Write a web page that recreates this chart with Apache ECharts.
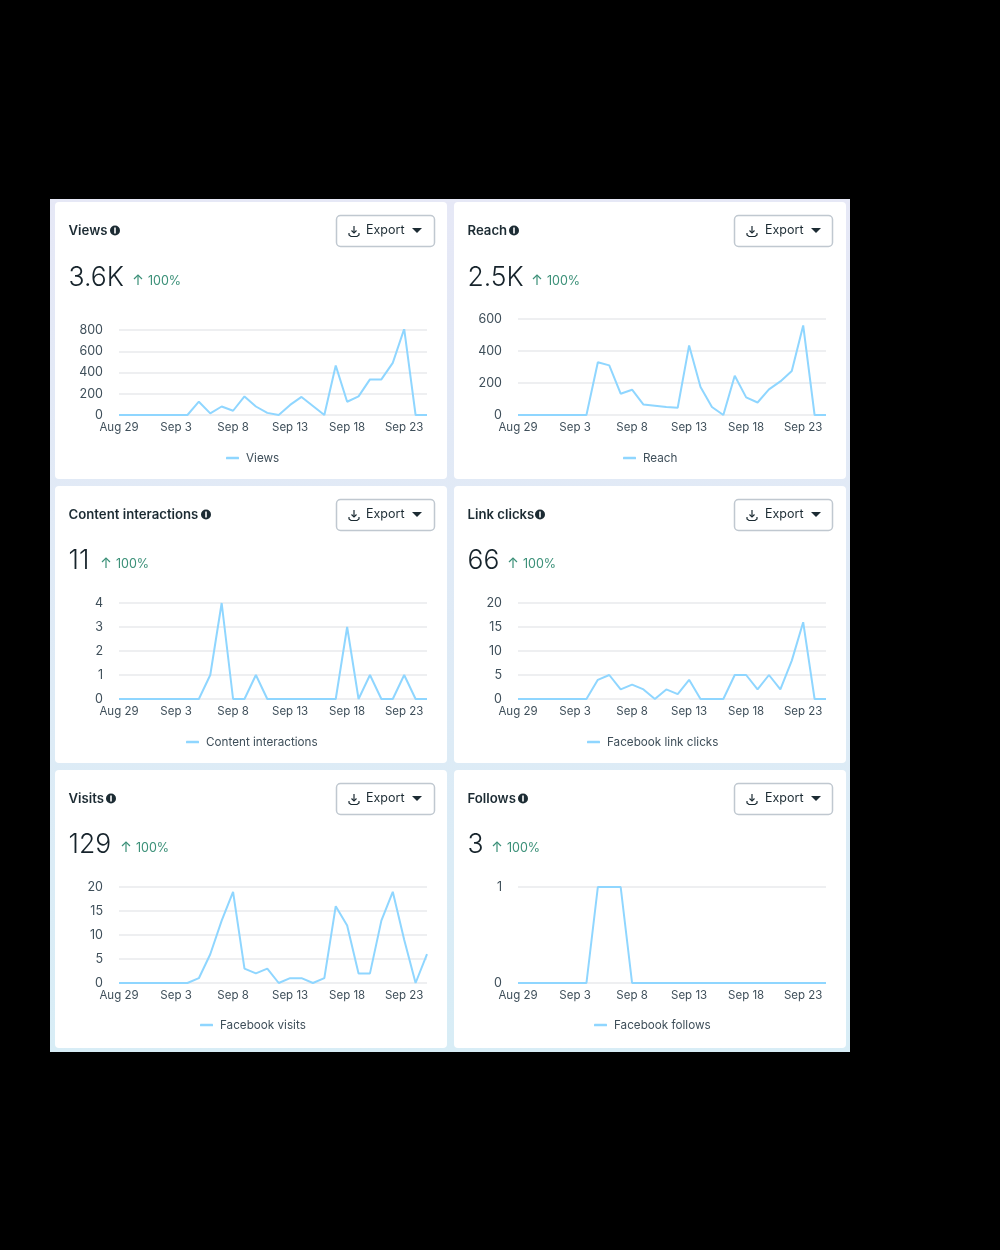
<!DOCTYPE html>
<html>
<head>
<meta charset="utf-8">
<style>
  html, body { margin: 0; padding: 0; background: #000; }
  #chart { width: 1000px; height: 1250px; }
</style>
<script src="https://cdn.jsdelivr.net/npm/echarts@6/dist/echarts.min.js"></script>
</head>
<body>
<div id="chart"></div>
<script>
const dates = ['Aug 29','Aug 30','Aug 31','Sep 1','Sep 2','Sep 3','Sep 4','Sep 5','Sep 6','Sep 7','Sep 8','Sep 9','Sep 10','Sep 11','Sep 12','Sep 13','Sep 14','Sep 15','Sep 16','Sep 17','Sep 18','Sep 19','Sep 20','Sep 21','Sep 22','Sep 23','Sep 24','Sep 25'];
const views = [0,0,0,0,0,0,0,125,15,80,40,175,80,20,0,95,170,85,0,465,125,175,335,335,490,810,0,0];
const reach = [0,0,0,0,0,0,0,330,310,133,158,65,58,50,45,435,175,50,0,245,110,78,160,210,275,560,0,0];
const interactions = [0,0,0,0,0,0,0,0,1,4,0,0,1,0,0,0,0,0,0,0,3,0,1,0,0,1,0,0];
const linkClicks = [0,0,0,0,0,0,0,4,5,2,3,2,0,2,1,4,0,0,0,5,5,2,5,2,8,16,0,0];
const visits = [0,0,0,0,0,0,0,1,6,13,19,3,2,3,0,1,1,0,1,16,12,2,2,13,19,9,0,6];
const follows = [0,0,0,0,0,0,0,1,1,1,0,0,0,0,0,0,0,0,0,0,0,0,0,0,0,0,0,0];

const titles = ['Views','Reach','Content interactions','Link clicks','Visits','Follows'];
const totals = ['3.6K','2.5K','11','66','129','3'];
const legends = ['Views','Reach','Content interactions','Facebook link clicks','Facebook visits','Facebook follows'];
const values = [views, reach, interactions, linkClicks, visits, follows];
const yMax = [800,600,4,20,20,1];
const yStep = [200,200,1,5,5,1];

// card layout
const colX = [55, 454];
const rowY = [202, 486, 770];
const cardW = 392;
const cardH = [277, 277, 278];
// plot top inside each card, title and total widths as measured on the reference
const gridTop = [128, 117, 117, 117, 117, 117];
const titleW = [40, 40, 131, 66, 36, 49];
const totalW = [57, 57, 25, 33, 45, 17];
const legendLeft = [166, 164, 126, 128, 140, 135];

const font = 'Inter, "Noto Sans", sans-serif';
const ink = '#1c2b33', green = '#3b9078', lineBlue = '#8fd6ff', axisText = '#3f4f5a';

const graphic = [{
  type: 'rect', silent: true, z: 0,
  shape: { x: 50, y: 199, width: 800, height: 853 },
  style: { fill: new echarts.graphic.LinearGradient(0, 0, 0, 1, [
    { offset: 0, color: '#e6e8f6' }, { offset: 1, color: '#d8edf6' }
  ]) }
}];
const grids = [], xAxes = [], yAxes = [], series = [], legendList = [];

function strokeLine(points, color, width) {
  return { type: 'polyline', z: 3, shape: { points }, style: { fill: null, stroke: color, lineWidth: width } };
}

titles.forEach((name, i) => {
  const col = i % 2, row = Math.floor(i / 2);
  const x = colX[col], y = rowY[row];
  graphic.push({ type: 'rect', silent: true, z: 1,
    shape: { x, y, width: cardW, height: cardH[row], r: 4 }, style: { fill: '#fff' } });
  graphic.push({ type: 'text', z: 2, x: x + 13.5, y: y + 29,
    style: { text: name, font: '600 13.2px ' + font, fill: ink, textVerticalAlign: 'middle' } });
  // info dot
  const dotX = x + 14 + titleW[i] + 6;
  graphic.push({ type: 'circle', z: 2, shape: { cx: dotX, cy: y + 28.5, r: 5 }, style: { fill: ink } });
  graphic.push({ type: 'rect', z: 3, shape: { x: dotX - 0.8, y: y + 25.5, width: 1.6, height: 6 }, style: { fill: '#fff' } });
  // export button, the box sits 1px further left in the right column but its text does not
  const bx = x + 281 - col, by = y + 13, cx = x + 281;
  graphic.push({ type: 'rect', z: 2, shape: { x: bx + 0.5, y: by + 0.5, width: 98, height: 31, r: 4 },
    style: { fill: '#fff', stroke: '#c0c8d0', lineWidth: 1.5 } });
  graphic.push(strokeLine([[bx + 18, by + 11], [bx + 18, by + 18]], ink, 1.2));
  graphic.push(strokeLine([[bx + 15.5, by + 15.5], [bx + 18, by + 18], [bx + 20.5, by + 15.5]], ink, 1.2));
  graphic.push(strokeLine([[bx + 13, by + 18], [bx + 13, by + 20], [bx + 15, by + 21.5], [bx + 21, by + 21.5], [bx + 23, by + 20], [bx + 23, by + 18]], ink, 1.2));
  graphic.push({ type: 'text', z: 3, x: cx + 30, y: by + 15.5,
    style: { text: 'Export', font: '12.5px ' + font, fill: ink, textVerticalAlign: 'middle' } });
  graphic.push({ type: 'polygon', z: 3, shape: { points: [[cx + 76, by + 13], [cx + 86, by + 13], [cx + 81, by + 18]] }, style: { fill: ink } });
  // total and change
  const ty = y + (row === 0 ? 76 : 75);
  graphic.push({ type: 'text', z: 2, x: x + 13.5, y: ty,
    style: { text: totals[i], font: '300 26.5px ' + font, fill: '#16232b', textVerticalAlign: 'middle' } });
  const ax = x + 13 + totalW[i] + 13;
  graphic.push(strokeLine([[ax, ty - 3], [ax, ty + 7]], green, 1.2));
  graphic.push(strokeLine([[ax - 4, ty + 1], [ax, ty - 3], [ax + 4, ty + 1]], green, 1.2));
  graphic.push({ type: 'text', z: 2, x: ax + 10, y: ty + 3.5,
    style: { text: '100%', font: '12.5px ' + font, fill: green, textVerticalAlign: 'middle' } });

  grids.push({ left: x + 64, width: 308, top: y + gridTop[i], bottom: 1250 - (y + 213) });
  xAxes.push({
    type: 'category', gridIndex: i, data: dates, boundaryGap: false, z: 4,
    axisLine: { show: false }, axisTick: { show: false }, splitLine: { show: false },
    axisLabel: { interval: 4, color: axisText, fontSize: 11.5, fontFamily: font, margin: 7, hideOverlap: false }
  });
  yAxes.push({
    type: 'value', gridIndex: i, min: 0, max: yMax[i], interval: yStep[i], z: 4,
    axisLine: { show: false }, axisTick: { show: false },
    splitLine: { lineStyle: { color: '#e8eaed', width: 1.5 } },
    axisLabel: { color: axisText, fontSize: 12.5, fontFamily: font, margin: 16, padding: [2, 0, 0, 0] }
  });
  series.push({
    name: legends[i], type: 'line', xAxisIndex: i, yAxisIndex: i, data: values[i], z: 5,
    showSymbol: false, symbol: 'none', smooth: false,
    lineStyle: { color: lineBlue, width: 2 }, itemStyle: { color: lineBlue }
  });
  legendList.push({
    show: true, data: [{ name: legends[i], icon: 'roundRect', itemStyle: { color: lineBlue } }],
    left: x + legendLeft[i], top: y + (row === 2 ? 244 : 245), itemWidth: 13, itemHeight: 2.5, itemGap: 8,
    selectedMode: false,
    textStyle: { color: axisText, fontSize: 11.7, fontFamily: font, padding: [0, 0, 0, 2] }
  });
});

const chart = echarts.init(document.getElementById('chart'));
chart.setOption({
  backgroundColor: '#000',
  animation: false,
  tooltip: { show: false },
  grid: grids, xAxis: xAxes, yAxis: yAxes, legend: legendList, series, graphic
});
</script>
</body>
</html>
